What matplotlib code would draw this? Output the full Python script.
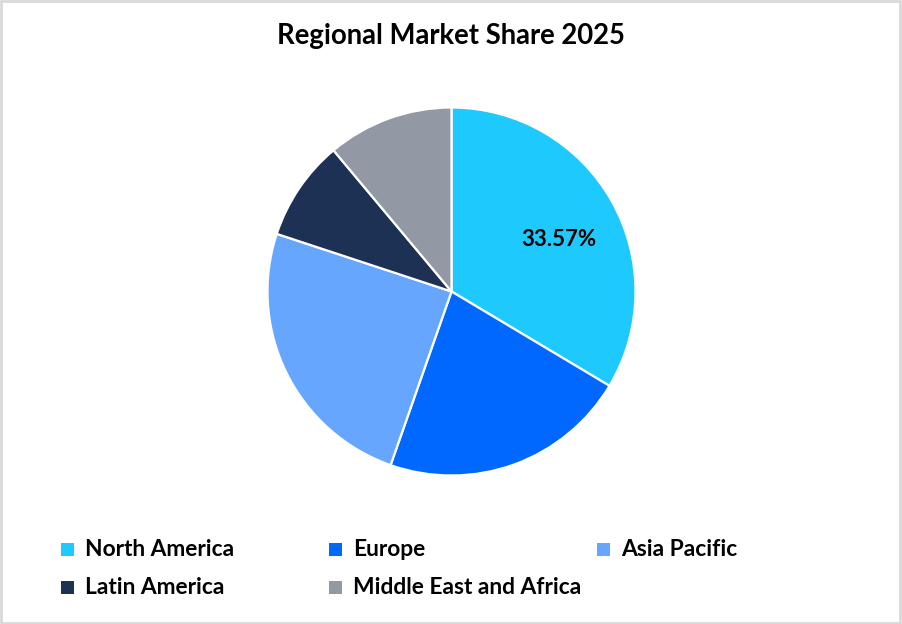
import matplotlib
matplotlib.use("Agg")
import matplotlib.pyplot as plt
from matplotlib.patches import Rectangle

# data
regions = ["North America", "Europe", "Asia Pacific", "Latin America", "Middle East and Africa"]
shares = [33.57, 21.80, 24.70, 8.85, 11.08]
colors = ["#1ECAFD", "#0068FF", "#66A6FF", "#1D3155", "#9398A5"]
title = "Regional Market Share 2025"

plt.rcParams['font.family'] = ['Lato', 'DejaVu Sans']

W, H = 902, 624
fig = plt.figure(figsize=(W / 100, H / 100), dpi=100)

# pie axes (center and radius in pixels)
cx, cy, r = 451.5, 291.5, 184
ax = fig.add_axes([(cx - r) / W, 1 - (cy + r) / H, 2 * r / W, 2 * r / H])
wedges, texts, autotexts = ax.pie(
    shares, colors=colors, startangle=90, counterclock=False, radius=1,
    autopct=lambda p: "%.2f%%" % p if p > 30 else "",
    pctdistance=0.65,
    wedgeprops=dict(edgecolor="white", linewidth=1.6),
    textprops=dict(fontsize=16, fontweight="bold", color="black"))
# nudge the only visible label a little lower, like the original
autotexts[0].set_position((0.584, 0.283))
ax.set_xlim(-1, 1)
ax.set_ylim(-1, 1)
ax.set_aspect("equal")
ax.axis("off")

# title
fig.text(0.5, 1 - 36 / H, title, ha="center", va="center",
         fontsize=19.8, fontweight="bold")

# legend, laid out by hand in 3 columns
col_x = [61, 329, 597]
row_y = [549, 587]
for i, (name, c) in enumerate(zip(regions, colors)):
    x = col_x[i % 3]
    y = row_y[i // 3]
    fig.patches.append(Rectangle((x / W, 1 - (y + 6.5) / H), 13 / W, 13 / H,
                                 transform=fig.transFigure, facecolor=c,
                                 edgecolor="none"))
    fig.text((x + 24) / W, 1 - y / H, name, ha="left", va="center",
             fontsize=16.4, fontweight="bold")

# outer border
fig.patches.append(Rectangle((0.001, 0.002), 0.997, 0.996, transform=fig.transFigure,
                             facecolor="none", edgecolor="#D9D9D9", linewidth=2))

fig.savefig("out.png", dpi=100)
